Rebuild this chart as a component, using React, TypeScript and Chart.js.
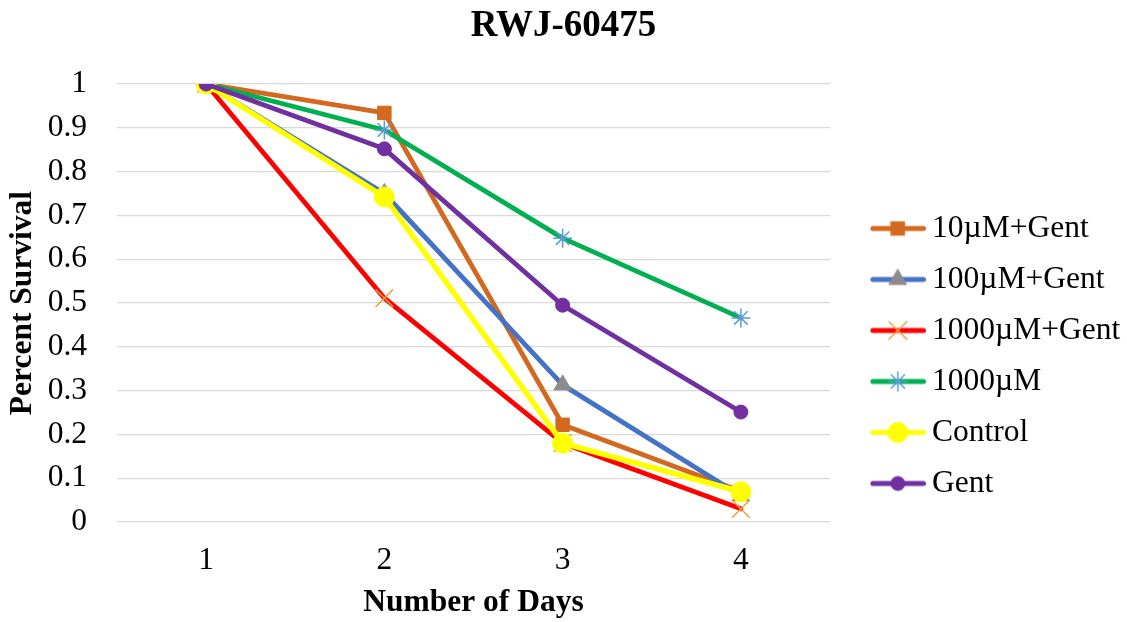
import React, { useEffect, useRef } from 'react';
import { Chart, registerables } from 'chart.js';
import { drawPoint } from 'chart.js/helpers';

Chart.register(...registerables);

// ---- data ----
const days = ['1', '2', '3', '4'];
const seriesNames = ['10µM+Gent', '100µM+Gent', '1000µM+Gent', '1000µM', 'Control', 'Gent'];
const s10Gent = [1, 0.934, 0.222, 0.07];
const s100Gent = [1, 0.75, 0.313, 0.06];
const s1000Gent = [1, 0.511, 0.18, 0.03];
const s1000 = [1, 0.895, 0.648, 0.466];
const sControl = [1, 0.742, 0.18, 0.069];
const sGent = [1, 0.852, 0.495, 0.251];
const seriesValues = [s10Gent, s100Gent, s1000Gent, s1000, sControl, sGent];

// ---- styles ----
const FONT = "'Liberation Serif', 'Times New Roman', serif";
const lineColors = ['#D2691E', '#4472C4', '#FF0000', '#00B050', '#FFFF00', '#7030A0'];
const markerStyles = ['rect', 'triangle', 'crossRot', 'star', 'circle', 'circle'];
const markerFill = ['#D2691E', '#8C8C8C', '#E8A33A', '#5B9BD5', '#FFFF00', '#7030A0'];
const markerRadius = [9.5, 10, 12.5, 9.5, 10, 7];
const markerBorderWidth = [1, 1, 1.5, 1.5, 1, 1];
const lineWidths = [4.8, 4.8, 4.8, 4.8, 5.5, 4.8];

function makeLegendIcon(i: number): HTMLCanvasElement {
  const c = document.createElement('canvas');
  c.width = 86;
  c.height = 30;
  const ctx = c.getContext('2d') as CanvasRenderingContext2D;
  ctx.strokeStyle = lineColors[i];
  ctx.lineWidth = 5;
  ctx.lineCap = 'round';
  ctx.beginPath();
  ctx.moveTo(33, 15);
  ctx.lineTo(83.5, 15);
  ctx.stroke();
  ctx.fillStyle = markerFill[i];
  ctx.strokeStyle = markerFill[i];
  ctx.lineWidth = markerBorderWidth[i];
  drawPoint(ctx, { pointStyle: markerStyles[i], radius: markerRadius[i], rotation: 0, borderWidth: markerBorderWidth[i] } as any, 58, 15);
  return c;
}

export default function App() {
  const ref = useRef<HTMLCanvasElement>(null);

  useEffect(() => {
    if (!ref.current) return;
    const icons = seriesNames.map((_, i) => makeLegendIcon(i));
    const datasets = seriesNames.map((name, i) => ({
      label: name,
      data: seriesValues[i],
      borderColor: lineColors[i],
      backgroundColor: lineColors[i],
      borderWidth: lineWidths[i],
      borderJoinStyle: 'round' as const,
      borderCapStyle: 'round' as const,
      tension: 0,
      pointStyle: markerStyles[i] as any,
      pointRadius: markerRadius[i],
      pointHoverRadius: markerRadius[i],
      pointBackgroundColor: markerFill[i],
      pointBorderColor: markerFill[i],
      pointBorderWidth: markerBorderWidth[i],
      order: seriesNames.length - 1 - i,
    }));

    const chart = new Chart(ref.current, {
      type: 'line',
      data: { labels: days, datasets },
      options: {
        animation: false,
        responsive: false,
        devicePixelRatio: 1,
        layout: { padding: { left: 0, right: 0, top: 0, bottom: 0 } },
        font: { family: FONT },
        plugins: {
          title: {
            display: true,
            text: 'RWJ-60475',
            color: '#000',
            font: { family: FONT, size: 37, weight: 'bold' },
            padding: { top: 4.6, bottom: 35 },
          },
          tooltip: { enabled: false },
          legend: {
            position: 'right',
            align: 'center',
            maxWidth: 297,
            title: { display: true, text: '', font: { size: 10 }, padding: { top: 0, bottom: 78 } },
            labels: {
              usePointStyle: true,
              pointStyleWidth: 66.75,
              padding: 19.5,
              color: '#000',
              font: { family: FONT, size: 31.5 },
              generateLabels: (ch: any) =>
                ch.data.datasets.map((ds: any, i: number) => ({
                  text: ds.label,
                  pointStyle: icons[i],
                  fillStyle: 'rgba(0,0,0,0)',
                  strokeStyle: 'rgba(0,0,0,0)',
                  lineWidth: 0,
                  hidden: false,
                  datasetIndex: i,
                  fontColor: '#000',
                })),
            },
          },
        },
        scales: {
          x: {
            type: 'category',
            offset: true,
            grid: { display: false, drawTicks: false },
            border: { display: false },
            ticks: { color: '#000', font: { family: FONT, size: 31.5 }, padding: 20, maxRotation: 0 },
            title: {
              display: true,
              text: 'Number of Days',
              color: '#000',
              font: { family: FONT, size: 31.5, weight: 'bold' },
              padding: { top: 4.4, bottom: 0 },
            },
            afterFit: (scale: any) => {
              scale.height = 100;
            },
          },
          y: {
            min: 0,
            max: 1,
            grid: { color: '#d9d9d9', lineWidth: 1.3, drawTicks: false },
            border: { display: false },
            ticks: {
              stepSize: 0.1,
              padding: 30,
              color: '#000',
              font: { family: FONT, size: 31.5 },
              callback: (v: any) => String(Number(Number(v).toFixed(1))),
            },
            title: {
              display: true,
              text: 'Percent Survival',
              color: '#000',
              font: { family: FONT, size: 31.5, weight: 'bold' },
              padding: { top: 3.6, bottom: 6.2 },
            },
            afterFit: (scale: any) => {
              scale.width = 117;
            },
          },
        },
      },
    });
    return () => chart.destroy();
  }, []);

  return (
    <div style={{ position: 'absolute', left: 0, top: 0, width: 1127, height: 622, background: '#fff' }}>
      <canvas ref={ref} width={1127} height={622} style={{ width: 1127, height: 622 }} />
    </div>
  );
}
